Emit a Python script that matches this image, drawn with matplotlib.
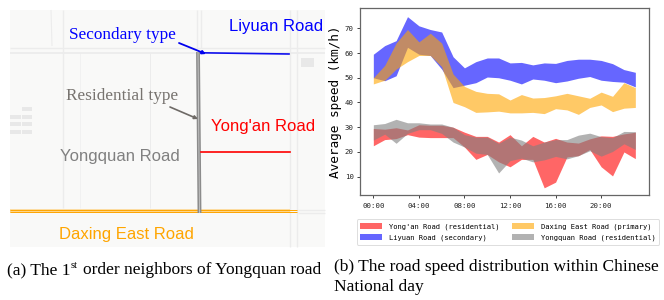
import matplotlib
matplotlib.use("Agg")
import matplotlib.pyplot as plt
from matplotlib.patches import Rectangle, FancyArrowPatch

hours = list(range(24))
tick_hours = [0, 4, 8, 12, 16, 20]
tick_labels = ["00:00", "04:00", "08:00", "12:00", "16:00", "20:00"]
y_ticks = [10, 20, 30, 40, 50, 60, 70]

yongan_low = [22.5, 25.0, 25.4, 27.0, 26.0, 25.8, 25.8, 25.8, 22.0, 17.0, 19.0, 16.0, 14.0, 17.0, 17.0, 5.5, 7.8, 18.0, 18.5, 21.0, 14.0, 10.3, 20.0, 17.3]
yongan_high = [29.5, 29.2, 29.8, 28.9, 31.0, 30.8, 30.8, 30.0, 28.0, 26.3, 26.3, 24.0, 27.0, 22.5, 26.3, 24.0, 25.5, 24.0, 23.6, 25.3, 26.5, 26.3, 27.3, 28.0]
liyuan_low = [50.0, 48.8, 50.8, 62.3, 59.5, 59.0, 53.5, 46.0, 47.0, 48.0, 50.3, 50.0, 49.0, 47.5, 49.5, 49.0, 48.0, 48.7, 49.8, 50.5, 49.0, 48.5, 48.2, 46.3]
liyuan_high = [59.5, 63.0, 65.0, 74.7, 71.0, 69.5, 68.5, 58.5, 54.0, 56.5, 58.0, 58.0, 56.0, 56.2, 55.2, 56.0, 55.8, 57.0, 57.5, 57.5, 57.0, 55.7, 53.3, 52.2]
daxing_low = [47.5, 49.0, 53.5, 56.5, 59.0, 59.0, 54.5, 40.0, 38.3, 36.0, 36.2, 36.5, 35.8, 35.8, 36.0, 35.5, 37.5, 37.0, 35.2, 38.0, 39.0, 36.3, 37.7, 38.0]
daxing_high = [50.0, 55.0, 64.0, 69.5, 64.5, 68.0, 64.0, 51.5, 46.5, 44.5, 43.7, 43.5, 41.0, 43.2, 41.8, 42.0, 42.7, 43.7, 42.7, 41.7, 44.2, 42.5, 48.0, 46.0]
yongquan_low = [24.8, 27.2, 23.5, 27.5, 29.0, 29.0, 27.5, 24.0, 22.0, 19.5, 19.0, 11.5, 16.5, 17.5, 16.0, 16.8, 18.2, 17.2, 18.5, 20.5, 18.3, 20.2, 23.3, 21.0]
yongquan_high = [31.0, 31.5, 33.2, 31.8, 31.8, 31.3, 31.3, 30.0, 27.0, 26.0, 26.0, 23.5, 26.0, 24.8, 22.5, 24.0, 25.0, 25.0, 26.8, 27.6, 26.2, 25.8, 28.3, 28.2]

series_labels = ["Yong'an Road (residential)", "Liyuan Road (secondary)",
                 "Daxing East Road (primary)", "Yongquan Road (residential)"]

W, H = 664, 300
fig = plt.figure(figsize=(W / 100, H / 100), dpi=100)

# overlay in pixel coordinates for the map panel and captions
ov = fig.add_axes([0, 0, 1, 1])
ov.set_xlim(0, W)
ov.set_ylim(H, 0)
ov.axis("off")

ov.add_patch(Rectangle((10, 10), 315, 237, fc="#f9f9f8", ec="none", zorder=0))
road = dict(color="#ececec", zorder=1, solid_capstyle="butt")
for x0, x1, y, lw in [(10, 325, 48, 1.0), (10, 325, 53, 1.3), (298, 325, 210, 1.0), (298, 325, 213, 1.0)]:
    ov.plot([x0, x1], [y, y], lw=lw, **road)
for x, y0, y1, lw in [(63, 10, 208, 1.0), (150, 53, 208, 0.7), (197, 10, 48, 1.0), (201, 10, 48, 1.0),
                      (290, 10, 247, 1.0), (297, 10, 247, 1.0), (80, 53, 208, 0.4)]:
    ov.plot([x, x], [y0, y1], lw=lw, **road)
ov.plot([51, 52], [10, 46], lw=0.8, **road)
for (x, y, w, h) in [(22, 107, 10, 4), (10, 115, 11, 4), (22, 115, 10, 4), (10, 122, 11, 4),
                     (22, 122, 10, 4), (10, 130, 11, 4), (22, 130, 10, 4), (301, 58, 13, 9)]:
    ov.add_patch(Rectangle((x, y), w, h, fc="#e8e8e8", ec="none", zorder=1))

ov.plot([10, 290], [211, 211], color="#fdd58c", lw=2.6, zorder=2, solid_capstyle="butt")
ov.plot([10, 297], [210, 210], color="#ffa500", lw=0.7, zorder=3, solid_capstyle="butt")
ov.plot([10, 297], [212.3, 212.3], color="#ffa500", lw=0.7, zorder=3, solid_capstyle="butt")
ov.plot([198, 199.5], [52, 213], color="#8c8c8c", lw=2.8, zorder=4, solid_capstyle="butt")
ov.plot([198, 199.5], [52, 213], color="#c8c8c8", lw=0.6, zorder=5, solid_capstyle="butt")
ov.plot([201, 289], [52.8, 54], color="#1010ee", lw=1.2, zorder=4)
ov.plot([201, 290], [152, 152], color="#ff0000", lw=1.2, zorder=4)

ov.add_patch(FancyArrowPatch((179, 43), (206, 54), arrowstyle="-|>", mutation_scale=5,
                             color="#0000ee", lw=1.3, shrinkA=0, shrinkB=0, zorder=6))
ov.add_patch(FancyArrowPatch((170, 107), (198, 119), arrowstyle="-|>", mutation_scale=5,
                             color="#6e6a66", lw=1.2, shrinkA=0, shrinkB=0, zorder=6))

serif = "Liberation Serif"
sans = "Liberation Sans"
ov.text(69, 35, "Secondary type", family=serif, size=12.4, color="#0000ff", va="center")
ov.text(66, 96, "Residential type", family=serif, size=12.4, color="#77736f", va="center")
ov.text(229, 27, "Liyuan Road", family=sans, size=12.0, color="#0000ff", va="center")
ov.text(211, 126, "Yong'an Road", family=sans, size=12.0, color="#ff0000", va="center")
ov.text(60, 157, "Yongquan Road", family=sans, size=12.0, color="#808080", va="center")
ov.text(59, 235, "Daxing East Road", family=sans, size=12.0, color="#ffa500", va="center")

cap = dict(family=serif, size=12.5, color="black", va="baseline")
ov.text(7, 274, "(a) The 1", **cap)
ov.text(71, 268, "st", family=serif, size=7.5, color="black", va="baseline")
ov.text(83, 274, "order neighbors of Yongquan road", **cap)
ov.text(334, 271, "(b) The road speed distribution within Chinese", **cap)
ov.text(334, 291, "National day", **cap)

# speed chart
ax = fig.add_axes([360 / W, 1 - 195 / H, (649 - 360) / W, (195 - 8) / H])
ax.patch.set_alpha(0)
a = 0.6
ax.fill_between(hours, yongan_low, yongan_high, color="red", alpha=a, lw=0, label=series_labels[0])
ax.fill_between(hours, liyuan_low, liyuan_high, color="blue", alpha=a, lw=0, label=series_labels[1])
ax.fill_between(hours, daxing_low, daxing_high, color="orange", alpha=a, lw=0, label=series_labels[2])
ax.fill_between(hours, yongquan_low, yongquan_high, color="gray", alpha=a, lw=0, label=series_labels[3])

ax.set_xlim(-1.17, 24.2)
ax.set_ylim(2.6, 78.2)
mono = "DejaVu Sans Mono"
ax.set_xticks(tick_hours)
ax.set_xticklabels(tick_labels, family=mono, fontsize=5.3)
ax.set_yticks(y_ticks)
ax.set_yticklabels([str(v) for v in y_ticks], family=mono, fontsize=5.3)
ax.tick_params(length=2.5, width=0.6, colors="#222222")
ax.tick_params(axis="x", pad=3.5)
ax.tick_params(axis="y", pad=2)
ax.set_ylabel("Average speed (km/h)", family=mono, fontsize=9.2, labelpad=2)
for s in ax.spines.values():
    s.set_linewidth(0.9)
    s.set_color("#666666")

leg = fig.legend(loc="center", bbox_to_anchor=(508 / W, 1 - 232 / H), ncol=2,
                 prop=dict(family=mono, size=5.1), frameon=True, framealpha=1,
                 edgecolor="#dddddd", fancybox=True, columnspacing=1.7, handlelength=3.1,
                 handleheight=1.0, handletextpad=1.0, labelspacing=0.55, borderpad=0.5)
leg.get_frame().set_linewidth(0.7)

fig.savefig("out.png", dpi=100)
